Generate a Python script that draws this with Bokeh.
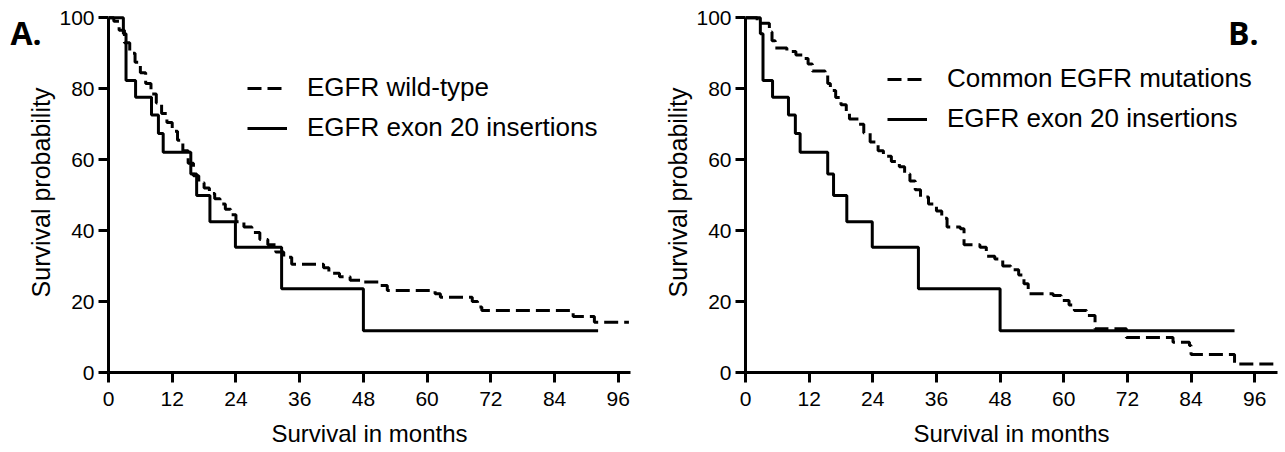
from bokeh.plotting import figure
from bokeh.models import Range1d, FixedTicker, Legend, LegendItem, Label
from bokeh.layouts import row
from bokeh.embed import file_html
from bokeh.resources import INLINE

# ---------------- data ----------------
month_ticks = [0, 12, 24, 36, 48, 60, 72, 84, 96]
surv_ticks = [0, 20, 40, 60, 80, 100]

# EGFR exon 20 insertions (both panels)
ex20_t = [0, 2.8, 3.3, 5.1, 8.1, 9.4, 10.3, 15.5, 16.6, 19.1, 23.9, 32.6, 48.0, 92.2]
ex20_s = [100, 95.5, 82.3, 77.6, 72.6, 67.4, 62.1, 56.0, 49.9, 42.5, 35.3, 23.6, 11.8, 11.8]

# EGFR wild-type (panel A)
wt_t = [0, 1, 2, 3, 4, 5, 6, 7, 8, 9, 10, 11, 12, 13, 14, 15, 16, 17, 18, 19, 20,
        21, 22, 23, 24, 25.5, 27, 28.5, 30, 31.5, 33, 34.5, 40.5, 41.5, 43.5, 45.5,
        48, 51, 52.5, 61.5, 62.5, 68.5, 69.5, 70.3, 87.5, 91.5, 98]
wt_s = [100, 99, 96.5, 93, 90, 87.5, 84.5, 81.5, 78.5, 76, 73, 70.5, 68, 65.5, 62.5,
        59, 55.5, 53.5, 52, 50.5, 49, 47.5, 46, 44.5, 42.5, 41, 39.5, 37.5, 36, 34,
        32.5, 30.5, 29.5, 28, 27, 26, 25.5, 24.5, 23.1, 22.2, 21.2, 20, 18.5, 17.5,
        15.8, 14.2, 14.2]

# Common EGFR mutations (panel B)
com_t = [0, 2.2, 4.5, 5.0, 5.6, 7.8, 9.5, 10.9, 11.8, 12.6, 15.0, 15.5, 16.0, 17.0,
         18.0, 19.0, 19.6, 21.3, 22.3, 23.5, 25.0, 26.0, 27.5, 29.0, 30.0, 31.0, 32.0,
         33.0, 34.5, 36.0, 37.0, 38.0, 40.5, 41.2, 44.2, 45.4, 47.0, 48.5, 50.0, 51.5,
         52.5, 53.3, 58.0, 59.5, 61.0, 62.0, 64.3, 65.9, 71.8, 80.6, 83.7, 84.0, 92.2,
         100]
com_s = [100, 98.5, 96, 93.5, 91.5, 90.5, 89.5, 88.5, 87, 85, 84, 81.5, 79.5, 77.5,
         75.5, 73, 71.5, 70, 67.5, 65, 62.5, 61, 59.5, 58, 56, 54, 51.5, 49.5, 47.5,
         45.5, 43.5, 41, 40.5, 36, 35.3, 32.8, 32, 30, 29, 27.5, 25, 22.2, 21.7, 20.3,
         19, 17.5, 16.1, 12.3, 9.9, 8.5, 7.6, 5.1, 2.4, 2.4]

FONT = "Liberation Sans"
DASH = "14 6"


def make_panel(x_end, frame_w, border_left, border_right, ref_t, ref_s, ref_label,
               legend_xy):
    p = figure(output_backend="svg", toolbar_location=None,
               frame_width=frame_w, frame_height=360,
               x_range=Range1d(0, x_end), y_range=Range1d(0, 101.5),
               min_border_left=border_left, min_border_right=border_right,
               min_border_top=12, min_border_bottom=78)
    p.outline_line_color = None
    p.grid.visible = False
    p.background_fill_color = "white"
    p.border_fill_color = "white"

    r_ref = p.step(ref_t, ref_s, mode="after", line_width=3, line_color="black",
                   line_dash=DASH)
    r_ex = p.step(ex20_t, ex20_s, mode="after", line_width=3, line_color="black")

    for ax in (p.xaxis[0], p.yaxis[0]):
        ax.axis_line_width = 3
        ax.axis_line_color = "black"
        ax.major_tick_line_width = 3
        ax.major_tick_line_color = "black"
        ax.major_tick_out = 10
        ax.major_tick_in = 0
        ax.minor_tick_line_color = None
        ax.major_label_text_font = FONT
        ax.major_label_text_font_size = "21px"
        ax.major_label_text_color = "black"
        ax.axis_label_text_font = FONT
        ax.axis_label_text_font_style = "normal"
        ax.axis_label_text_color = "black"

    p.xaxis.ticker = FixedTicker(ticks=month_ticks)
    p.yaxis.ticker = FixedTicker(ticks=surv_ticks)
    p.yaxis.bounds = (0, 100)
    p.xaxis.axis_label = "Survival in months"
    p.yaxis.axis_label = "Survival probability"
    p.xaxis.axis_label_text_font_size = "24px"
    p.yaxis.axis_label_text_font_size = "25px"
    p.xaxis.major_label_standoff = 9
    p.yaxis.major_label_standoff = 4
    p.xaxis.axis_label_standoff = 11
    p.yaxis.axis_label_standoff = 1

    legend = Legend(items=[LegendItem(label=ref_label, renderers=[r_ref]),
                           LegendItem(label="EGFR exon 20 insertions", renderers=[r_ex])],
                    location=legend_xy)
    legend.label_text_font = FONT
    legend.label_text_font_size = "26px"
    legend.label_text_color = "black"
    legend.glyph_width = 40
    legend.glyph_height = 20
    legend.label_standoff = 20
    legend.spacing = 9
    legend.padding = 0
    legend.margin = 0
    legend.border_line_color = None
    legend.background_fill_alpha = 0
    p.add_layout(legend)
    return p


def letter(text, x, align):
    return Label(x=x, y=340, x_units="screen", y_units="screen",
                 text=text, text_font="Open Sans",
                 text_font_style="bold", text_font_size="32px",
                 text_color="black", text_align=align,
                 text_baseline="alphabetic")


pA = make_panel(98.3, 522, 108, 5, wt_t, wt_s, "EGFR wild-type", (139, 229))
pB = make_panel(100.3, 532, 78, 5, com_t, com_s, "Common EGFR mutations", (142, 238))

# panel letters: "A." sits left of the y axis, so it lives in a side panel
pA.add_layout(letter("A.", -620, "left"), "right")
pB.add_layout(letter("B.", 513, "right"))

layout = row(pA, pB)
open("out.html", "w").write(file_html(layout, INLINE))
